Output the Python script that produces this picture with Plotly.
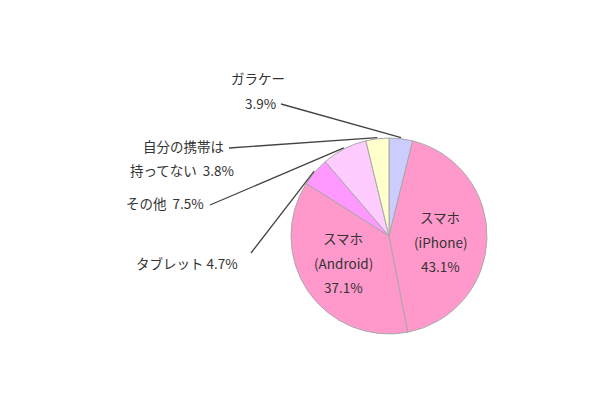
import math

import plotly.graph_objects as go

# data, clockwise from 12 o'clock
labels = ["ガラケー", "スマホ(iPhone)", "スマホ(Android)", "タブレット", "その他", "自分の携帯は持ってない"]
values = [3.9, 43.1, 37.1, 4.7, 7.5, 3.8]
colors = ["#CCCCFF", "#FF99CC", "#FF99CC", "#FF99FF", "#FFCCFF", "#FFFFCC"]

W, H = 610, 400
OFF = 8  # page body margin
CX, CY, R = 389, 236, 98  # pie centre / radius in screen pixels
FONT = "Noto Sans CJK JP, Meiryo, sans-serif"
TXT = "#333333"


def px(x, y):
    # screen pixel -> paper coords
    return (x - OFF) / W, 1 - (y - OFF) / H


def edge_point(i, r=R):
    # mid-angle of slice i on the rim (screen pixels)
    total = sum(values)
    start = sum(values[:i]) / total * 360
    mid = math.radians(start + values[i] / total * 180)
    return CX + r * math.sin(mid), CY - r * math.cos(mid)


x0d, y1d = px(CX - R, CY - R)
x1d, y0d = px(CX + R, CY + R)

fig = go.Figure(go.Pie(
    labels=labels,
    values=values,
    sort=False,
    direction="clockwise",
    rotation=0,
    marker=dict(colors=colors, line=dict(color="#A8A8A8", width=1)),
    textinfo="none",
    hoverinfo="label+percent",
    domain=dict(x=[x0d, x1d], y=[y0d, y1d]),
))

annotations = []


def add_text(text, x, y, size=13.5, anchor="center"):
    ax, ay = px(x, y)
    annotations.append(dict(text=text, x=ax, y=ay, xref="paper", yref="paper",
                            showarrow=False, xanchor=anchor, yanchor="middle",
                            font=dict(family=FONT, size=size, color=TXT)))


# inside labels
add_text("スマホ", 440, 217)
add_text("(iPhone)", 440, 242)
add_text(f"{values[1]}%", 440, 266)
add_text("スマホ", 343, 238)
add_text("(Android)", 343, 263)
add_text(f"{values[2]}%", 343, 287)

# outside labels
add_text("ガラケー", 258, 78)
add_text(f"{values[0]}%", 278, 103, anchor="right")
add_text("自分の携帯は", 226, 146, anchor="right")
add_text(f"持ってない  {values[5]}%", 236, 170, anchor="right")
add_text(f"その他  {values[4]}%", 206, 203, anchor="right")
add_text(f"タブレット {values[3]}%", 240, 263, anchor="right")

# leader lines: (slice index, start pixel)
leaders = [(0, (281, 104)), (5, (229, 148)), (4, (210, 205)), (3, (251, 253))]
shapes = []
for i, (sx, sy) in leaders:
    ex, ey = edge_point(i, R + 1)
    lx0, ly0 = px(sx, sy)
    lx1, ly1 = px(ex, ey)
    shapes.append(dict(type="line", xref="paper", yref="paper", x0=lx0, y0=ly0, x1=lx1, y1=ly1,
                       line=dict(color="#444444", width=1.3)))

fig.update_layout(
    width=W,
    height=H,
    margin=dict(l=0, r=0, t=0, b=0),
    showlegend=False,
    paper_bgcolor="white",
    plot_bgcolor="white",
    annotations=annotations,
    shapes=shapes,
)

fig.write_html("out.html")
